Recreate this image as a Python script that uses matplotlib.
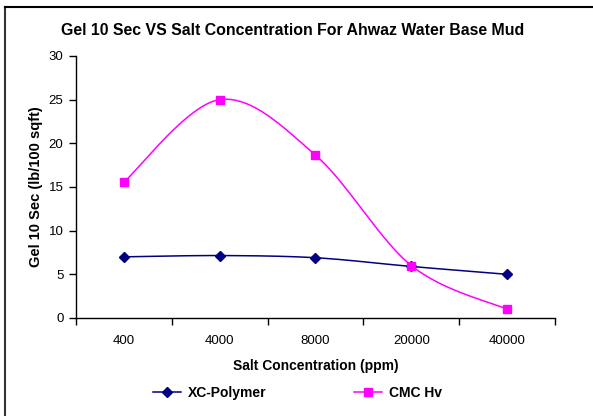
import matplotlib
matplotlib.use("Agg")
import matplotlib.pyplot as plt
import numpy as np
from matplotlib.lines import Line2D

plt.rcParams['font.family'] = ['Liberation Sans', 'DejaVu Sans']

categories = ["400", "4000", "8000", "20000", "40000"]
xc_polymer = [7.0, 7.15, 6.9, 5.9, 5.0]
cmc_hv = [15.55, 25.0, 18.65, 6.0, 1.0]


def smooth(y, n=40):
    # excel-like smoothed line (catmull-rom bezier)
    y = np.asarray(y, float)
    x = np.arange(len(y), dtype=float)
    pts = np.column_stack([x, y])
    out = []
    for i in range(len(pts) - 1):
        p0 = pts[max(i - 1, 0)]
        p1 = pts[i]
        p2 = pts[i + 1]
        p3 = pts[min(i + 2, len(pts) - 1)]
        c1 = p1 + (p2 - p0) / 6.0
        c2 = p2 - (p3 - p1) / 6.0
        t = np.linspace(0, 1, n)[:, None]
        seg = ((1 - t) ** 3) * p1 + 3 * ((1 - t) ** 2) * t * c1 + 3 * (1 - t) * t ** 2 * c2 + t ** 3 * p2
        out.append(seg)
    out = np.vstack(out)
    return out[:, 0], out[:, 1]


fig = plt.figure(figsize=(5.93, 4.16), dpi=100)
ax = fig.add_axes([0.128, 0.2356, 0.808, 0.6298])

idx = np.arange(len(categories))
sx, sy = smooth(xc_polymer)
ax.plot(sx, sy, color='#000080', lw=1.1)
ax.plot(idx, xc_polymer, ls='none', marker='D', ms=5, color='#000080')
sx, sy = smooth(cmc_hv)
ax.plot(sx, sy, color='#FF00FF', lw=1.1)
ax.plot(idx, cmc_hv, ls='none', marker='s', ms=6, color='#FF00FF')

ax.set_xlim(-0.5, len(categories) - 0.5)
ax.set_ylim(0, 30)
ax.set_yticks(np.arange(0, 31, 5))
ax.set_xticks(idx)
ax.set_xticklabels(categories)
ax.set_xticks(np.arange(-0.5, len(categories), 1), minor=True)
ax.tick_params(axis='x', which='major', length=0, pad=12, labelsize=9.5)
ax.tick_params(axis='x', which='minor', length=5, direction='out', width=1)
ax.tick_params(axis='y', length=5, direction='out', width=1, labelsize=9.5, pad=4)

for s in ['top', 'right']:
    ax.spines[s].set_visible(False)
for s in ['left', 'bottom']:
    ax.spines[s].set_linewidth(1)

ax.set_xlabel("Salt Concentration (ppm)", fontweight='bold', fontsize=10, labelpad=9)
ax.set_ylabel("Gel 10 Sec (lb/100 sqft)", fontweight='bold', fontsize=10.5, labelpad=4)
fig.text(0.494, 0.927, "Gel 10 Sec VS Salt Concentration For Ahwaz Water Base Mud",
         ha='center', va='center', fontweight='bold', fontsize=11.4)

handles = [Line2D([], [], color='#000080', marker='D', ms=5, lw=1.1),
           Line2D([], [], color='#FF00FF', marker='s', ms=6, lw=1.1)]
fig.legend(handles, ["XC-Polymer", "CMC Hv"], ncol=2, frameon=False,
           loc='center', bbox_to_anchor=(0.502, 0.055), prop={'weight': 'bold', 'size': 10},
           handlelength=2.0, columnspacing=6.3, handletextpad=0.5)

# outer chart border (only left/top visible in the crop)
fig.add_artist(Line2D([0.008, 0.008], [0, 0.983], transform=fig.transFigure, color='#333333', lw=1.5))
fig.add_artist(Line2D([0.008, 1.0], [0.983, 0.983], transform=fig.transFigure, color='black', lw=1.5))

fig.savefig("out.png", dpi=100)
